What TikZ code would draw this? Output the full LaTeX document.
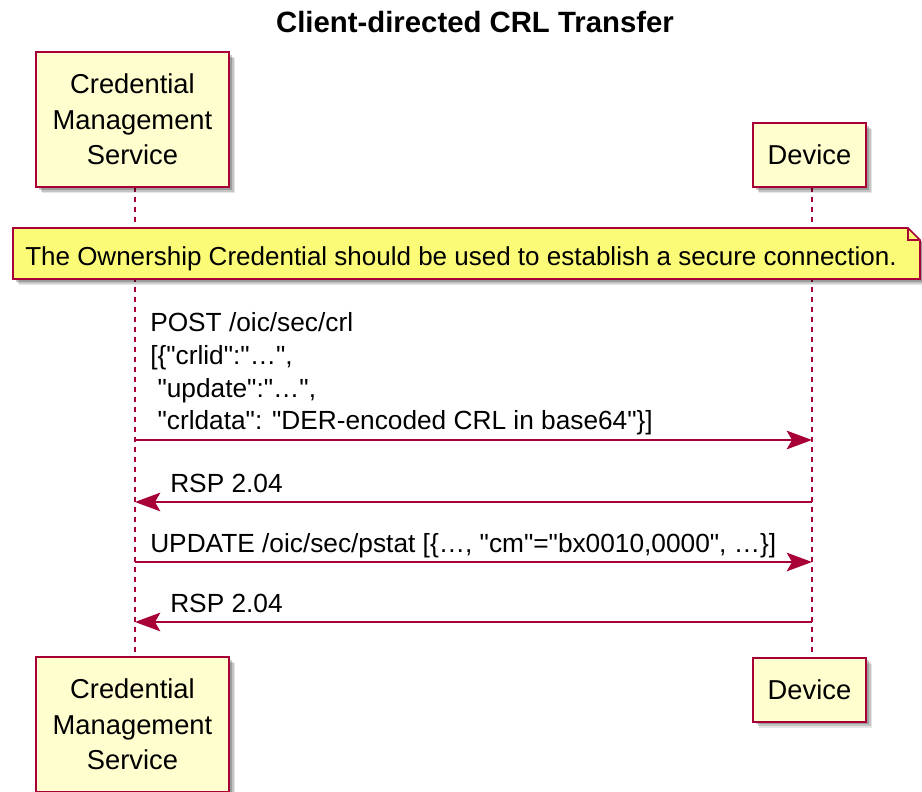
\documentclass[tikz,border=0pt]{standalone}
\usepackage{fontspec}
\newfontfamily\umlfont{Liberation Sans}
\usetikzlibrary{arrows.meta,shadows}
\definecolor{umlred}{HTML}{A80036}
\definecolor{partfill}{HTML}{FEFECE}
\definecolor{notefill}{HTML}{FBFB77}
\tikzset{
  softshadow/.style={
    drop shadow={shadow xshift=2.2pt,shadow yshift=-2.2pt,opacity=.2,fill=black},
    drop shadow={shadow xshift=3.4pt,shadow yshift=-3.4pt,opacity=.15,fill=black},
    drop shadow={shadow xshift=4.6pt,shadow yshift=-4.6pt,opacity=.1,fill=black}},
  participant/.style={draw=umlred,line width=1.5pt,fill=partfill,softshadow,
    align=center,inner sep=0pt,font=\umlfont\fontsize{20.5}{26.6}\selectfont},
  lifeline/.style={draw=umlred,line width=0.8pt,dash pattern=on 3.75pt off 3.75pt},
  msg/.style={draw=umlred,line width=1.1pt,-{Stealth[length=19pt,width=14pt,inset=4pt]}},
  msglabel/.style={anchor=base west,inner sep=0pt,align=left,
    font=\umlfont\fontsize{19.7}{24.75}\selectfont},
  notebox/.style={draw=umlred,line width=1.2pt,fill=notefill,softshadow},
}
\begin{document}
\begin{tikzpicture}[x=0.75pt,y=-0.75pt]
\useasboundingbox (0,0) rectangle (922,792);

% title
\node[anchor=base,inner sep=0pt,font=\umlfont\fontsize{22}{26}\selectfont\bfseries]
  (title) at (475,33) {Client-directed CRL Transfer};

% lifelines
\coordinate (cmsA) at (135,187);
\coordinate (cmsB) at (135,657);
\coordinate (devA) at (812,187);
\coordinate (devB) at (812,657);
\draw[lifeline] (cmsA) -- (cmsB);
\draw[lifeline] (devA) -- (devB);

% participants
\node[participant,minimum width=144.75pt,minimum height=101.25pt]
  (cmsTop) at (132.5,119.5) {Credential\\Management\\Service};
\node[participant,minimum width=84.75pt,minimum height=48pt]
  (devTop) at (809.5,155) {Device};
\node[participant,minimum width=144.75pt,minimum height=101.25pt]
  (cmsBot) at (132.5,724.5) {Credential\\Management\\Service};
\node[participant,minimum width=84.75pt,minimum height=48pt]
  (devBot) at (809.5,689.5) {Device};

% note spanning both lifelines
\filldraw[notebox] (13,228) -- (908,228) -- (920,240) -- (920,279) -- (13,279) -- cycle;
\draw[umlred,line width=1.2pt] (908,228) -- (908,240) -- (920,240);
\node[anchor=base west,inner sep=0pt,font=\umlfont\fontsize{19.5}{24}\selectfont]
  (note) at (25,265) {The Ownership Credential should be used to establish a secure connection.};

% messages
\coordinate (c1) at (135,440); \coordinate (d1) at (812,440);
\coordinate (c2) at (135,502); \coordinate (d2) at (812,502);
\coordinate (c3) at (135,562); \coordinate (d3) at (812,562);
\coordinate (c4) at (135,622); \coordinate (d4) at (812,622);

\node[msglabel] (m1a) at (150,331) {POST /oic/sec/crl};
\node[msglabel] (m1b) at (150,364) {[\{"crlid":"\dots",};
\node[msglabel] (m1c) at (150,397) {\ "update":"\dots",};
\node[msglabel] (m1d) at (150,429) {\ "crldata": "DER-encoded CRL in base64"\}]};
\draw[msg] (c1) -- (d1);

\node[msglabel] (m2) at (170,492) {RSP 2.04};
\draw[msg] (d2) -- (c2);

\node[msglabel] (m3) at (150,552) {UPDATE /oic/sec/pstat [\{\dots, "cm"="bx0010,0000", \dots\}]};
\draw[msg] (c3) -- (d3);

\node[msglabel] (m4) at (170,612) {RSP 2.04};
\draw[msg] (d4) -- (c4);
\end{tikzpicture}
\end{document}
